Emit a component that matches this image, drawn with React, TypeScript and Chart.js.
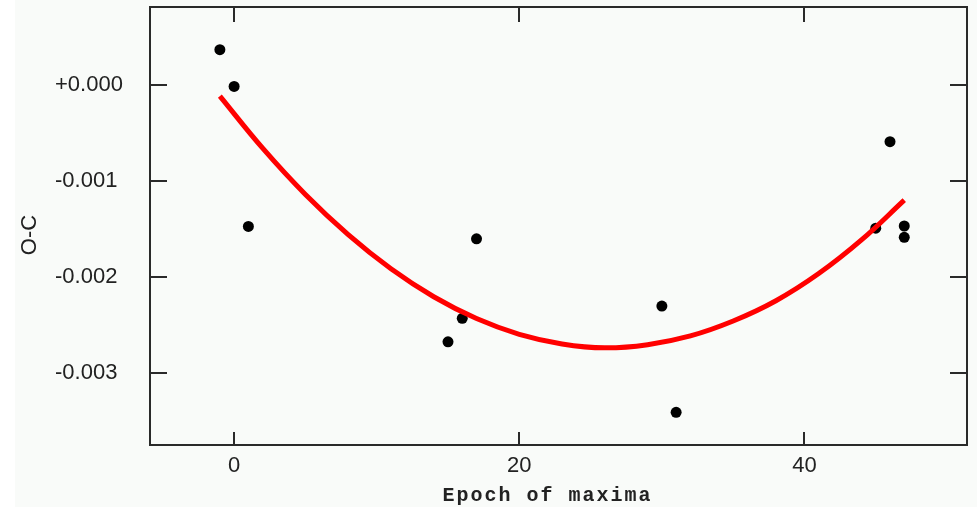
import React, { useEffect, useRef } from "react";
import { Chart, registerables } from "chart.js";

Chart.register(...registerables);

// Observed times of maxima: cycle number and O-C residual (days)
const epochs = [-1, 0, 1, 15, 16, 17, 30, 31, 45, 46, 47, 47];
const ocValues = [
  0.000368, -0.000015, -0.001472, -0.002672, -0.002428, -0.0016,
  -0.0023, -0.003406, -0.00149, -0.00059, -0.001467, -0.001585,
];

// Quadratic ephemeris fit, sampled along the epoch range
const fitEpochs = [-1, 2, 5, 8, 11, 14, 17, 20, 23, 26, 29, 32, 35, 38, 41, 44, 47];
const fitValues = [
  -0.000115, -0.000657, -0.001139, -0.001557, -0.001912, -0.002203,
  -0.00243, -0.002594, -0.002694, -0.002735, -0.002702, -0.002611,
  -0.002456, -0.002245, -0.001962, -0.001612, -0.001198,
];

const xTicks = [0, 20, 40];
const yTicks = [0, -0.001, -0.002, -0.003];
const xTitle = "Epoch of maxima";
const yTitle = "O-C";

const LABEL_FONT = '"Liberation Sans", Arial, sans-serif';
const MONO_FONT = '"Liberation Mono", "DejaVu Sans Mono", monospace';
const INK = "#222222";

function formatOC(v: number): string {
  const s = Math.abs(v).toFixed(3);
  return (v >= 0 || s === "0.000" ? "+" : "-") + s;
}

// Paper colour behind the whole figure
const backdrop = {
  id: "backdrop",
  beforeDraw(chart: any) {
    const { ctx, width, height } = chart;
    ctx.save();
    ctx.fillStyle = "#ffffff";
    ctx.fillRect(0, 0, width, height);
    ctx.fillStyle = "#f9fbf9";
    ctx.fillRect(15, 0, width - 15, height);
    ctx.restore();
  },
};

// Boxed frame with inward tick marks on all four sides, plus axis titles
const frame = {
  id: "frame",
  afterDatasetsDraw(chart: any) {
    const { ctx, chartArea: a, scales } = chart;
    ctx.save();
    ctx.strokeStyle = "#2a2a2a";
    ctx.lineWidth = 2;
    ctx.strokeRect(a.left, a.top, a.right - a.left, a.bottom - a.top);
    ctx.beginPath();
    for (const t of scales.x.ticks) {
      const px = Math.round(scales.x.getPixelForValue(t.value));
      ctx.moveTo(px, a.bottom);
      ctx.lineTo(px, a.bottom - 13);
      ctx.moveTo(px, a.top);
      ctx.lineTo(px, a.top + 15);
    }
    for (const t of scales.y.ticks) {
      const py = Math.round(scales.y.getPixelForValue(t.value));
      ctx.moveTo(a.left, py);
      ctx.lineTo(a.left + 17, py);
      ctx.moveTo(a.right, py);
      ctx.lineTo(a.right - 17, py);
    }
    ctx.stroke();

    ctx.fillStyle = INK;
    ctx.font = `bold 20px ${MONO_FONT}`;
    (ctx as any).letterSpacing = "2px";
    ctx.textAlign = "center";
    ctx.textBaseline = "alphabetic";
    ctx.fillText(xTitle, (a.left + a.right) / 2 - 11, 501);
    (ctx as any).letterSpacing = "0px";

    ctx.translate(29.5, 235);
    ctx.rotate(-Math.PI / 2);
    ctx.font = `22px ${LABEL_FONT}`;
    ctx.textBaseline = "middle";
    ctx.fillText(yTitle, 0, 0);
    ctx.restore();
  },
};

function OCDiagram() {
  const canvasRef = useRef<HTMLCanvasElement | null>(null);

  useEffect(() => {
    const canvas = canvasRef.current;
    if (!canvas) return;
    const chart = new Chart(canvas, {
      type: "scatter",
      data: {
        datasets: [
          {
            type: "line",
            data: fitEpochs.map((x, i) => ({ x, y: fitValues[i] })),
            borderColor: "#ff0000",
            borderWidth: 5,
            borderCapStyle: "butt",
            pointRadius: 0,
            tension: 0.4,
            fill: false,
          } as any,
          {
            type: "scatter",
            data: epochs.map((x, i) => ({ x, y: ocValues[i] })),
            pointRadius: 5.5,
            pointHoverRadius: 5.5,
            pointBackgroundColor: "#000000",
            pointBorderWidth: 0,
          },
        ],
      },
      options: {
        responsive: false,
        animation: false,
        devicePixelRatio: 1,
        events: [],
        layout: { padding: { left: 55, top: 7, right: 10, bottom: 0 } },
        plugins: {
          legend: { display: false },
          tooltip: { enabled: false },
        },
        scales: {
          x: {
            type: "linear",
            position: "bottom",
            min: -5.9,
            max: 51.4,
            grid: { display: false, drawTicks: false },
            border: { display: false },
            afterBuildTicks: (s: any) => {
              s.ticks = xTicks.map((v) => ({ value: v }));
            },
            afterFit: (s: any) => {
              s.height = 62;
              s.paddingLeft = 0;
              s.paddingRight = 0;
            },
            ticks: {
              color: INK,
              font: { family: LABEL_FONT, size: 22 },
              padding: 8,
              maxRotation: 0,
              autoSkip: false,
              callback: (v: any) => String(v),
            },
          },
          y: {
            type: "linear",
            position: "left",
            min: -0.003746,
            max: 0.000812,
            grid: { display: false, drawTicks: false },
            border: { display: false },
            afterBuildTicks: (s: any) => {
              s.ticks = yTicks.map((v) => ({ value: v }));
            },
            afterFit: (s: any) => {
              s.width = 95;
              s.paddingTop = 0;
              s.paddingBottom = 0;
            },
            ticks: {
              color: INK,
              font: { family: LABEL_FONT, size: 22 },
              crossAlign: "far",
              autoSkip: false,
              callback: (v: any) => formatOC(Number(v)),
            },
          },
        },
      },
      plugins: [backdrop, frame],
    });
    return () => chart.destroy();
  }, []);

  return (
    <div style={{ position: "absolute", left: 0, top: 0, width: 977, height: 507 }}>
      <canvas ref={canvasRef} width={977} height={507} style={{ display: "block" }} />
    </div>
  );
}

export default function App() {
  return <OCDiagram />;
}
